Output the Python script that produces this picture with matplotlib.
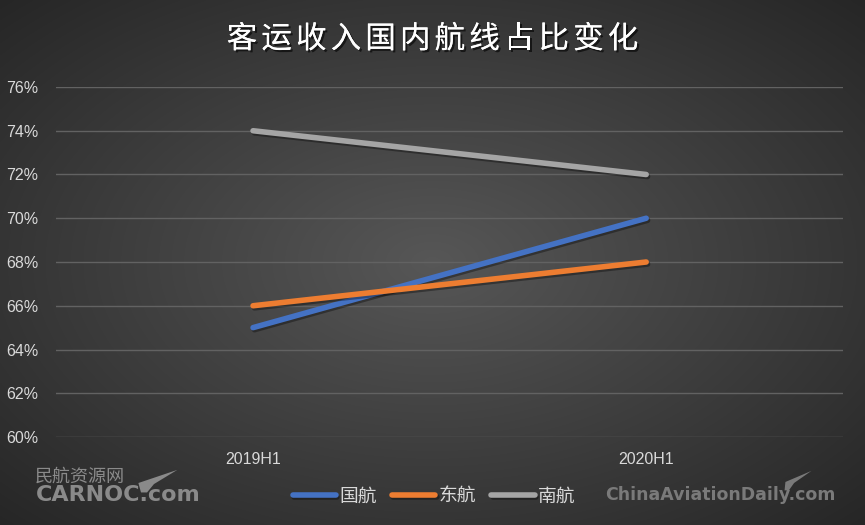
import numpy as np
import matplotlib.pyplot as plt
import matplotlib.patheffects as pe
from matplotlib.ticker import FuncFormatter

plt.rcParams['font.family'] = ['Noto Sans CJK SC', 'DejaVu Sans']

# data
periods = ['2019H1', '2020H1']
airlines = ['国航', '东航', '南航']
share_ca = [65, 70]
share_mu = [66, 68]
share_cz = [74, 72]
colors = ['#4472C4', '#ED7D31', '#A5A5A5']
title = '客运收入国内航线占比变化'

fig = plt.figure(figsize=(8.65, 5.25), dpi=100)

# radial gradient background
bg = fig.add_axes([0, 0, 1, 1], zorder=0)
yy, xx = np.mgrid[-1:1:300j, -1:1:500j]
r = np.sqrt(xx ** 2 + yy ** 2) / np.sqrt(2)
shade = 0.34 - 0.19 * r
img = np.dstack([shade, shade, shade])
bg.imshow(img, aspect='auto', extent=[0, 1, 0, 1], interpolation='bilinear')
bg.set_xlim(0, 1)
bg.set_ylim(0, 1)
bg.axis('off')

# check-mark swooshes of the watermarks
bg.fill([0.160, 0.205, 0.178, 0.170, 0.163], [0.080, 0.105, 0.078, 0.062, 0.062],
        color='#8a8a8a', lw=0)
bg.fill([0.908, 0.938, 0.918, 0.912, 0.907], [0.082, 0.103, 0.08, 0.066, 0.066],
        color='#7a7a7a', lw=0)

ax = fig.add_axes([0.0653, 0.1676, 0.909, 0.6667], zorder=1)
ax.patch.set_alpha(0)

x = np.arange(len(periods))
for vals, name, c in zip([share_ca, share_mu, share_cz], airlines, colors):
    ax.plot(x, vals, color=c, lw=4, solid_capstyle='round', label=name,
            path_effects=[pe.SimpleLineShadow(offset=(1, -1.5), alpha=0.35), pe.Normal()])

ax.set_xlim(-0.5, 1.5)
ax.set_ylim(60, 76)
ax.set_yticks(np.arange(60, 77, 2))
ax.yaxis.set_major_formatter(FuncFormatter(lambda v, p: f'{v:.0f}%'))
ax.set_xticks(x)
ax.set_xticklabels(periods)
ax.grid(axis='y', color='#626262', lw=1)
ax.set_axisbelow(True)
for s in ax.spines.values():
    s.set_visible(False)
ax.tick_params(length=0, colors='#d9d9d9', labelsize=11.5)
ax.tick_params(axis='y', pad=13)
ax.tick_params(axis='x', pad=11)
for lab in ax.get_xticklabels() + ax.get_yticklabels():
    lab.set_family('Liberation Sans')

# spaced-out title, one character at a time
xs = np.linspace(242, 623, len(title)) / 865
for ch, xc in zip(title, xs):
    fig.text(xc, 0.925, ch, ha='center', va='center', fontsize=22,
             color='white', fontweight='medium',
             path_effects=[pe.withSimplePatchShadow(offset=(1.5, -1.5), shadow_rgbFace='black', alpha=0.6),
                           pe.Normal()])

fig.legend(loc='center', bbox_to_anchor=(0.502, 0.055), ncol=3, frameon=False,
           fontsize=13.5, labelcolor='#d9d9d9', handlelength=2.3,
           handletextpad=0.2, columnspacing=0.8)

# watermarks
fig.text(0.04, 0.092, '民航资源网', fontsize=13, color='#8a8a8a', va='center')
fig.text(0.042, 0.057, 'CARNOC.com', fontsize=16, color='#8a8a8a', va='center',
         fontweight='bold', family='DejaVu Sans')
fig.text(0.70, 0.057, 'ChinaAviationDaily.com', fontsize=12.5, color='#7a7a7a',
         va='center', fontweight='bold', family='DejaVu Sans')

fig.savefig('out.png', dpi=100)
